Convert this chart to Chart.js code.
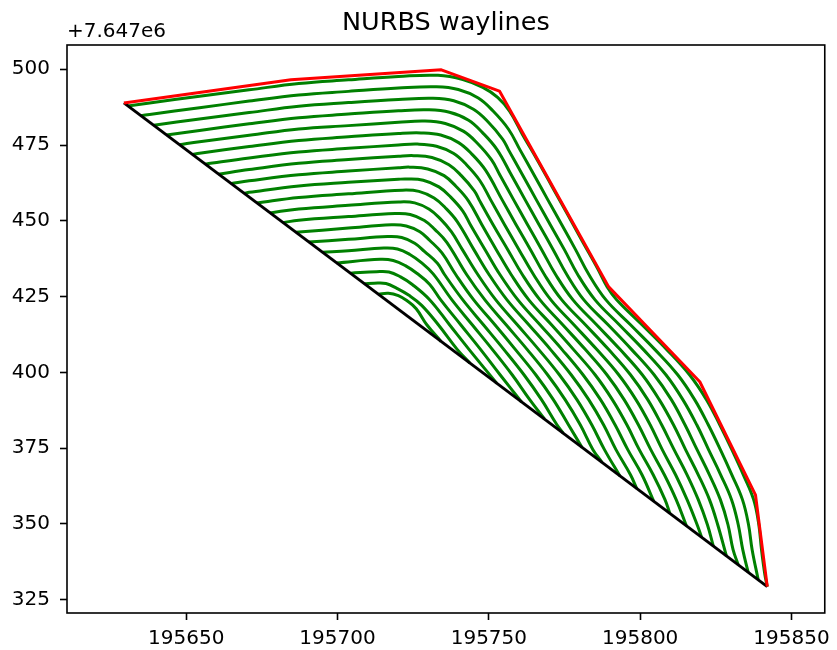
<!DOCTYPE html>
<html>
<head>
<meta charset="utf-8">
<script src="https://cdn.jsdelivr.net/npm/chart.js@4.4.1/dist/chart.umd.min.js"></script>
<style>
  html, body { margin: 0; padding: 0; background: #fff; }
</style>
</head>
<body>
<canvas id="waylines-chart" width="837" height="650"></canvas>
<script>
(function() {
    'use strict';

    // y values are shown relative to this offset (matplotlib style)
    const Y_OFFSET_TEXT = '+7.647e6';
    const TITLE = 'NURBS waylines';

    const X_TICKS = [195650, 195700, 195750, 195800, 195850];
    const Y_TICKS = [325, 350, 375, 400, 425, 450, 475, 500];

    // field boundary (red) and base line (black)
    const BOUNDARY_X = [195629.4, 195684.6, 195734.3, 195753.5, 195789.6, 195819.7, 195838.1, 195842.0];
    const BOUNDARY_Y = [488.9, 496.5, 499.8, 492.8, 428.2, 396.9, 359.6, 329.3];
    const BASE_X = [195629.4, 195842.0];
    const BASE_Y = [488.9, 329.3];

    // waylines, outermost first
    const WAY_00_X = [195630.7, 195637.9, 195654.4, 195670.8, 195687.2, 195703.6, 195720.1, 195733.2, 195741.4, 195748.0, 195752.9, 195756.9, 195761.1, 195766.1, 195771.0, 195775.9, 195780.8, 195785.8, 195789.1, 195792.3, 195800.6, 195808.8, 195816.3, 195821.9, 195826.3, 195830.3, 195834.1, 195837.5, 195839.2, 195840.1, 195841.2, 195842.0];
    const WAY_00_Y = [487.9, 488.9, 491.1, 493.2, 495.3, 496.5, 497.6, 498.0, 496.6, 494.0, 490.7, 486.1, 478.5, 469.9, 461.1, 452.3, 443.4, 434.5, 428.2, 423.9, 415.7, 407.5, 399.2, 391.0, 382.7, 374.5, 366.2, 358.0, 349.8, 341.5, 333.3, 329.3];
    const WAY_01_X = [195635.0, 195637.9, 195654.4, 195670.8, 195687.2, 195703.6, 195720.1, 195732.7, 195739.9, 195746.5, 195751.4, 195756.5, 195760.3, 195764.9, 195769.5, 195774.1, 195778.7, 195783.1, 195788.7, 195796.8, 195804.9, 195812.4, 195818.0, 195822.5, 195826.5, 195830.3, 195833.8, 195835.8, 195837.0, 195839.0];
    const WAY_01_Y = [484.7, 485.1, 487.3, 489.5, 491.5, 492.7, 493.8, 494.2, 493.3, 490.5, 486.2, 480.2, 473.4, 465.2, 456.9, 448.7, 440.4, 432.2, 423.9, 415.7, 407.5, 399.2, 391.0, 382.7, 374.5, 366.2, 358.0, 349.8, 341.5, 331.6];
    const WAY_02_X = [195639.3, 195654.4, 195670.8, 195687.2, 195703.6, 195720.1, 195731.4, 195738.4, 195744.9, 195749.7, 195754.6, 195756.5, 195761.1, 195765.7, 195770.3, 195775.0, 195779.4, 195785.1, 195793.1, 195801.1, 195808.5, 195814.1, 195818.7, 195822.6, 195826.6, 195830.2, 195832.4, 195833.9, 195835.7];
    const WAY_02_Y = [481.5, 483.6, 485.7, 487.8, 489.0, 490.0, 490.4, 489.6, 486.8, 482.7, 476.9, 473.4, 465.2, 456.9, 448.7, 440.4, 432.2, 423.9, 415.7, 407.5, 399.2, 391.0, 382.7, 374.5, 366.2, 358.0, 349.8, 341.5, 334.0];
    const WAY_03_X = [195643.5, 195654.4, 195670.8, 195687.2, 195703.6, 195720.1, 195730.2, 195737.0, 195743.3, 195747.9, 195752.7, 195757.4, 195762.0, 195766.6, 195771.3, 195775.8, 195781.4, 195789.4, 195797.2, 195804.6, 195810.3, 195814.8, 195818.8, 195822.9, 195826.5, 195829.0, 195830.7, 195832.4];
    const WAY_03_Y = [478.3, 479.8, 482.0, 484.0, 485.2, 486.3, 486.6, 485.8, 483.2, 479.1, 473.5, 465.2, 456.9, 448.7, 440.4, 432.2, 423.9, 415.7, 407.5, 399.2, 391.0, 382.7, 374.5, 366.2, 358.0, 349.8, 341.5, 336.5];
    const WAY_04_X = [195647.8, 195654.4, 195670.8, 195687.2, 195703.6, 195720.1, 195728.9, 195735.6, 195741.7, 195746.2, 195750.9, 195753.6, 195758.2, 195762.8, 195767.5, 195772.1, 195777.8, 195785.6, 195793.4, 195800.7, 195806.3, 195811.0, 195815.0, 195819.2, 195822.9, 195825.6, 195828.5];
    const WAY_04_Y = [475.1, 476.1, 478.2, 480.3, 481.4, 482.5, 482.9, 482.1, 479.5, 475.6, 470.1, 465.2, 456.9, 448.7, 440.4, 432.2, 423.9, 415.7, 407.5, 399.2, 391.0, 382.7, 374.5, 366.2, 358.0, 349.8, 339.4];
    const WAY_05_X = [195652.1, 195654.4, 195670.8, 195687.2, 195703.6, 195720.1, 195727.6, 195734.1, 195740.0, 195744.4, 195748.9, 195754.4, 195759.0, 195763.8, 195768.4, 195774.1, 195781.9, 195789.6, 195796.8, 195802.5, 195807.1, 195811.2, 195815.5, 195819.2, 195822.2, 195824.2];
    const WAY_05_Y = [471.9, 472.3, 474.5, 476.5, 477.7, 478.8, 479.0, 478.3, 475.8, 472.0, 466.7, 456.9, 448.7, 440.4, 432.2, 423.9, 415.7, 407.5, 399.2, 391.0, 382.7, 374.5, 366.2, 358.0, 349.8, 342.6];
    const WAY_06_X = [195656.3, 195670.8, 195687.2, 195703.6, 195720.1, 195726.4, 195732.7, 195738.4, 195742.6, 195747.0, 195750.6, 195755.2, 195760.0, 195764.8, 195770.5, 195778.1, 195785.7, 195792.9, 195798.6, 195803.3, 195807.3, 195811.7, 195815.5, 195818.8, 195820.3];
    const WAY_06_Y = [468.7, 470.7, 472.7, 473.9, 475.0, 475.3, 474.6, 472.2, 468.5, 463.3, 456.9, 448.7, 440.4, 432.2, 423.9, 415.7, 407.5, 399.2, 391.0, 382.7, 374.5, 366.2, 358.0, 349.8, 345.6];
    const WAY_07_X = [195660.6, 195670.8, 195687.2, 195703.6, 195720.1, 195725.2, 195731.2, 195736.8, 195740.9, 195745.2, 195746.8, 195751.4, 195756.3, 195761.1, 195766.9, 195774.4, 195781.9, 195789.0, 195794.7, 195799.4, 195803.5, 195808.0, 195811.9, 195815.3];
    const WAY_07_Y = [465.4, 466.9, 469.0, 470.2, 471.3, 471.5, 470.9, 468.5, 464.9, 459.9, 456.9, 448.7, 440.4, 432.2, 423.9, 415.7, 407.5, 399.2, 391.0, 382.7, 374.5, 366.2, 358.0, 349.3];
    const WAY_08_X = [195664.9, 195670.8, 195687.2, 195703.6, 195720.1, 195723.9, 195729.8, 195735.2, 195739.1, 195743.3, 195747.7, 195752.5, 195757.4, 195763.2, 195770.7, 195778.0, 195785.1, 195790.8, 195795.6, 195799.7, 195804.3, 195808.2, 195809.8];
    const WAY_08_Y = [462.3, 463.2, 465.2, 466.4, 467.5, 467.7, 467.1, 464.9, 461.4, 456.5, 448.7, 440.4, 432.2, 423.9, 415.7, 407.5, 399.2, 391.0, 382.7, 374.5, 366.2, 358.0, 353.5];
    const WAY_09_X = [195669.2, 195670.8, 195687.2, 195703.6, 195720.1, 195722.7, 195728.3, 195733.5, 195737.4, 195741.4, 195743.9, 195748.8, 195753.7, 195759.6, 195766.9, 195774.2, 195781.1, 195786.9, 195791.7, 195795.9, 195800.6, 195804.5];
    const WAY_09_Y = [459.1, 459.4, 461.5, 462.7, 463.7, 463.8, 463.4, 461.2, 457.8, 453.2, 448.7, 440.4, 432.2, 423.9, 415.7, 407.5, 399.2, 391.0, 382.7, 374.5, 366.2, 357.4];
    const WAY_10_X = [195673.4, 195687.2, 195703.6, 195721.4, 195726.9, 195731.9, 195735.6, 195739.5, 195745.1, 195750.1, 195756.0, 195763.2, 195770.4, 195777.2, 195783.0, 195787.9, 195792.0, 195796.8, 195798.9];
    const WAY_10_Y = [455.9, 457.7, 458.9, 460.1, 459.7, 457.5, 454.3, 449.8, 440.4, 432.2, 423.9, 415.7, 407.5, 399.2, 391.0, 382.7, 374.5, 366.2, 361.6];
    const WAY_11_X = [195677.7, 195687.2, 195703.6, 195720.2, 195725.5, 195730.3, 195733.9, 195737.6, 195741.3, 195746.4, 195752.3, 195759.4, 195766.5, 195773.3, 195779.1, 195784.0, 195788.2, 195793.3];
    const WAY_11_Y = [452.6, 453.9, 455.1, 456.2, 455.9, 453.8, 450.7, 446.4, 440.4, 432.2, 423.9, 415.7, 407.5, 399.2, 391.0, 382.7, 374.5, 365.8];
    const WAY_12_X = [195682.0, 195687.2, 195703.6, 195719.0, 195724.0, 195728.7, 195732.2, 195736.1, 195742.7, 195748.7, 195755.7, 195762.7, 195769.4, 195775.2, 195780.2, 195784.4, 195787.4];
    const WAY_12_Y = [449.4, 450.2, 451.4, 452.4, 452.1, 450.1, 447.1, 442.9, 432.2, 423.9, 415.7, 407.5, 399.2, 391.0, 382.7, 374.5, 370.3];
    const WAY_13_X = [195686.2, 195703.6, 195717.8, 195722.7, 195727.2, 195730.5, 195734.5, 195739.1, 195745.0, 195752.0, 195758.8, 195765.5, 195771.3, 195776.3, 195780.8];
    const WAY_13_Y = [446.2, 447.6, 448.7, 448.3, 446.4, 443.5, 439.4, 432.2, 423.9, 415.7, 407.5, 399.2, 391.0, 382.7, 375.2];
    const WAY_14_X = [195690.5, 195703.6, 195716.5, 195721.2, 195725.5, 195728.7, 195733.0, 195735.4, 195741.4, 195748.2, 195755.0, 195761.6, 195767.4, 195772.5, 195774.6];
    const WAY_14_Y = [443.0, 443.9, 444.8, 444.5, 442.6, 439.9, 436.0, 432.2, 423.9, 415.7, 407.5, 399.2, 391.0, 382.7, 379.9];
    const WAY_15_X = [195695.1, 195703.6, 195715.3, 195719.8, 195723.9, 195727.7, 195731.6, 195737.8, 195744.5, 195751.2, 195757.7, 195763.5, 195768.4];
    const WAY_15_Y = [439.6, 440.1, 441.0, 440.7, 438.9, 436.2, 432.5, 423.9, 415.7, 407.5, 399.2, 391.0, 384.6];
    const WAY_16_X = [195699.7, 195714.1, 195718.4, 195722.4, 195726.3, 195730.4, 195734.1, 195740.7, 195747.3, 195753.7, 195760.8];
    const WAY_16_Y = [436.1, 437.3, 436.9, 435.2, 432.6, 429.1, 423.9, 415.7, 407.5, 399.2, 390.2];
    const WAY_17_X = [195704.3, 195712.9, 195717.0, 195720.8, 195724.7, 195730.5, 195737.0, 195743.5, 195752.6];
    const WAY_17_Y = [432.7, 433.2, 433.1, 431.5, 429.0, 423.9, 415.7, 407.5, 396.4];
    const WAY_18_X = [195708.9, 195712.1, 195716.0, 195719.6, 195723.6, 195727.8, 195733.3, 195739.6, 195743.7];
    const WAY_18_Y = [429.2, 429.4, 429.3, 427.7, 425.4, 422.1, 415.7, 407.5, 403.1];
    const WAY_19_X = [195713.5, 195716.8, 195720.1, 195723.0, 195726.0, 195729.5, 195734.2];
    const WAY_19_Y = [425.8, 426.1, 425.3, 423.6, 421.0, 415.7, 410.2];

    const WAYLINES = [
        [WAY_00_X, WAY_00_Y], [WAY_01_X, WAY_01_Y], [WAY_02_X, WAY_02_Y], [WAY_03_X, WAY_03_Y],
        [WAY_04_X, WAY_04_Y], [WAY_05_X, WAY_05_Y], [WAY_06_X, WAY_06_Y], [WAY_07_X, WAY_07_Y],
        [WAY_08_X, WAY_08_Y], [WAY_09_X, WAY_09_Y], [WAY_10_X, WAY_10_Y], [WAY_11_X, WAY_11_Y],
        [WAY_12_X, WAY_12_Y], [WAY_13_X, WAY_13_Y], [WAY_14_X, WAY_14_Y], [WAY_15_X, WAY_15_Y],
        [WAY_16_X, WAY_16_Y], [WAY_17_X, WAY_17_Y], [WAY_18_X, WAY_18_Y], [WAY_19_X, WAY_19_Y],
    ];

    const FONT = 'DejaVu Sans';

    function toPoints(xs, ys) {
        return xs.map((x, i) => ({ x, y: ys[i] }));
    }

    function lineDataset(xs, ys, color, order, tension) {
        return {
            data: toPoints(xs, ys),
            showLine: true,
            borderColor: color,
            backgroundColor: color,
            borderWidth: 3,
            pointRadius: 0,
            fill: false,
            order,
            cubicInterpolationMode: 'default',
            tension,
            borderJoinStyle: 'round',
            borderCapStyle: 'butt',
        };
    }

    // frame, title and offset text like matplotlib
    const decorations = {
        id: 'decorations',
        afterDraw(chart) {
            const { ctx, chartArea: a } = chart;
            ctx.save();
            ctx.strokeStyle = '#000';
            ctx.lineWidth = 1.6;
            ctx.strokeRect(a.left, a.top, a.right - a.left, a.bottom - a.top);
            ctx.fillStyle = '#000';
            ctx.textBaseline = 'alphabetic';
            ctx.font = '25.5px "' + FONT + '"';
            ctx.textAlign = 'center';
            ctx.fillText(TITLE, (a.left + a.right) / 2, 30);
            ctx.font = '20px "' + FONT + '"';
            ctx.textAlign = 'left';
            ctx.fillText(Y_OFFSET_TEXT, a.left, 37);
            ctx.restore();
        },
    };

    function axisOptions(min, max, tickList, size, pad) {
        return {
            type: 'linear',
            min,
            max,
            afterBuildTicks: scale => { scale.ticks = tickList.map(v => ({ value: v })); },
            afterFit: scale => {
                if (scale.isHorizontal()) scale.height = size;
                else scale.width = size;
            },
            border: { display: false },
            grid: {
                display: true,
                drawOnChartArea: false,
                drawTicks: true,
                tickLength: 7,
                tickWidth: 1.6,
                tickColor: '#000',
            },
            ticks: {
                color: '#000',
                padding: pad,
                maxRotation: 0,
                font: { family: FONT, size: 20 },
                callback: v => String(v),
            },
        };
    }

    function initChart() {
        const canvas = document.getElementById('waylines-chart');
        const datasets = WAYLINES.map(([xs, ys]) => lineDataset(xs, ys, '#008000', 2, 0.4));
        datasets.push(lineDataset(BASE_X, BASE_Y, '#000000', 1, 0));
        datasets.push(lineDataset(BOUNDARY_X, BOUNDARY_Y, '#ff0000', 0, 0));

        new Chart(canvas, {
            type: 'scatter',
            data: { datasets },
            options: {
                responsive: false,
                animation: false,
                layout: { padding: { top: 45, right: 8, left: 0, bottom: 0 } },
                plugins: { legend: { display: false }, tooltip: { enabled: false } },
                scales: {
                    x: axisOptions(195610.6, 195861.0, X_TICKS, 37, 7),
                    y: axisOptions(320.6, 508.0, Y_TICKS, 67, 10),
                },
            },
            plugins: [decorations],
        });
    }

    if (document.readyState === 'loading') {
        document.addEventListener('DOMContentLoaded', initChart);
    } else {
        initChart();
    }
})();
</script>
</body>
</html>
